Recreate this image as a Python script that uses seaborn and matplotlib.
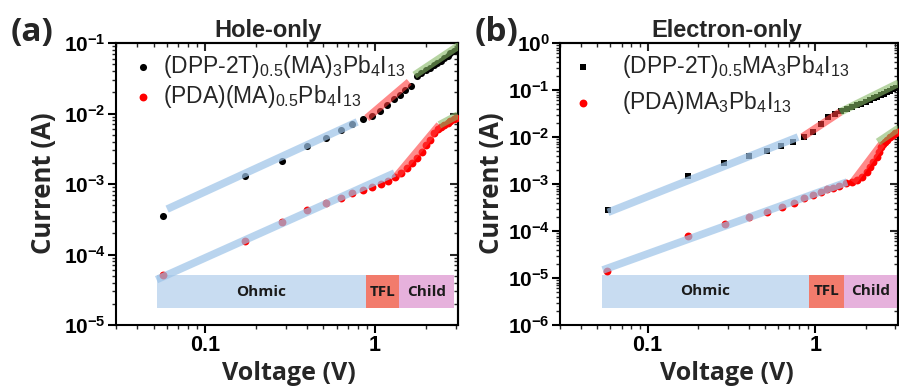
import numpy as np
import pandas as pd
import matplotlib
matplotlib.use("Agg")
import matplotlib.pyplot as plt
from matplotlib.ticker import FixedLocator, NullFormatter, LogLocator
import seaborn as sns

# ---------------- data ----------------
# (a) Hole-only
V_a_black = [0.057, 0.172, 0.284, 0.398, 0.515, 0.63, 0.74, 0.85, 0.97, 1.08, 1.19, 1.31, 1.42,
             1.52, 1.63, 1.77, 1.88, 2.0, 2.11, 2.23, 2.34, 2.46, 2.57, 2.69, 2.8, 2.92, 3.03]
I_a_black = [3.5e-4, 1.3e-3, 2.1e-3, 3.5e-3, 4.5e-3, 5.8e-3, 7.1e-3, 8.4e-3, 9.2e-3, 0.0108, 0.0132,
             0.0161, 0.0183, 0.0215, 0.0246, 0.034, 0.037, 0.041, 0.044, 0.048, 0.052, 0.056, 0.061,
             0.066, 0.071, 0.076, 0.080]
V_a_red = [0.057, 0.172, 0.284, 0.398, 0.515, 0.63, 0.74, 0.85, 0.97, 1.09, 1.2, 1.32, 1.43, 1.55,
           1.66, 1.78, 1.89, 2.0, 2.12, 2.23, 2.35, 2.46, 2.58, 2.69, 2.8, 2.92, 3.03]
I_a_red = [5.1e-5, 1.55e-4, 2.9e-4, 4.3e-4, 5.4e-4, 6.4e-4, 7.4e-4, 8.2e-4, 9.1e-4, 1.0e-3, 1.1e-3,
           1.26e-3, 1.43e-3, 1.69e-3, 2.0e-3, 2.34e-3, 2.85e-3, 3.6e-3, 4.2e-3, 5.3e-3, 6.0e-3,
           6.4e-3, 6.9e-3, 7.4e-3, 7.9e-3, 8.3e-3, 8.7e-3]

# (b) Electron-only
V_b_black = [0.058, 0.173, 0.287, 0.40, 0.518, 0.627, 0.74, 0.86, 0.97, 1.09, 1.2, 1.31, 1.42,
             1.54, 1.65, 1.77, 1.88, 2.0, 2.11, 2.23, 2.34, 2.46, 2.57, 2.69, 2.8, 2.92, 3.03]
I_b_black = [2.8e-4, 1.48e-3, 2.8e-3, 3.9e-3, 5.0e-3, 6.4e-3, 7.8e-3, 0.010, 0.0128, 0.019, 0.026,
             0.031, 0.035, 0.039, 0.043, 0.047, 0.051, 0.056, 0.061, 0.066, 0.071, 0.077, 0.083,
             0.089, 0.096, 0.103, 0.110]
V_b_red = [0.057, 0.173, 0.29, 0.404, 0.518, 0.636, 0.75, 0.86, 0.97, 1.08, 1.17, 1.28, 1.39, 1.53,
           1.66, 1.78, 1.9, 2.04, 2.12, 2.21, 2.34, 2.4, 2.47, 2.54, 2.61, 2.7, 2.8, 2.9, 2.99, 3.1]
I_b_red = [1.4e-5, 7.8e-5, 1.4e-4, 2.0e-4, 2.5e-4, 3.2e-4, 4.0e-4, 5.0e-4, 5.8e-4, 6.8e-4, 7.8e-4,
           8.2e-4, 9.1e-4, 1.05e-3, 1.1e-3, 1.22e-3, 1.41e-3, 1.8e-3, 2.3e-3, 2.95e-3, 3.75e-3,
           4.8e-3, 6.1e-3, 7.0e-3, 7.8e-3, 8.8e-3, 0.010, 0.011, 0.0122, 0.013]

# fitted segments (V endpoints, I endpoints)
fit_a = {
    "ohm_black": ([0.06, 0.79], [4.4e-4, 7.6e-3]),
    "tfl_black": ([0.90, 1.60], [8.6e-3, 0.028]),
    "child_black": ([1.72, 3.16], [0.035, 0.093]),
    "ohm_red": ([0.052, 1.31], [4.4e-5, 1.43e-3]),
    "tfl_red": ([1.35, 2.41], [1.3e-3, 6.9e-3]),
    "child_red": ([2.41, 3.10], [6.9e-3, 9.5e-3]),
}
fit_b = {
    "ohm_black": ([0.058, 0.79], [2.5e-4, 1.0e-2]),
    "tfl_black": ([0.84, 1.41], [0.010, 0.034]),
    "child_black": ([1.41, 3.15], [0.034, 0.14]),
    "ohm_red": ([0.054, 1.55], [1.48e-5, 1.1e-3]),
    "tfl_red": ([1.68, 2.50], [1.1e-3, 7.2e-3]),
    "child_red": ([2.37, 3.16], [7.8e-3, 0.0155]),
}

# regimes
region_names = ["Ohmic", "TFL", "Child"]
region_bounds_a = [0.052, 0.885, 1.40, 2.92]
region_y_a = [1.74e-5, 5.1e-5]
region_bounds_b = [0.0532, 0.92, 1.49, 3.12]
region_y_b = [2.3e-6, 1.16e-5]

labels_a = [r"(DPP-2T)$_{0.5}$(MA)$_3$Pb$_4$I$_{13}$", r"(PDA)(MA)$_{0.5}$Pb$_4$I$_{13}$"]
labels_b = [r"(DPP-2T)$_{0.5}$MA$_3$Pb$_4$I$_{13}$", r"(PDA)MA$_3$Pb$_4$I$_{13}$"]

xtick_vals = [0.1, 1]
xtick_labels = ["0.1", "1"]

# ---------------- style ----------------
sns.set_theme(style="ticks")
plt.rcParams["font.family"] = ["Liberation Sans", "DejaVu Sans"]
plt.rcParams["mathtext.default"] = "regular"
plt.rcParams["axes.linewidth"] = 1.5

region_colors = ["#c8dcf1", "#f27b6c", "#e6b1dc"]
fit_colors = {"ohm": "#9cc3e8", "tfl": "#ff3a3a", "child": "#86b865"}
BOLD2 = ["Open Sans", "DejaVu Sans"]

fig = plt.figure(figsize=(8.99, 3.92), dpi=100)
W, H = 899.0, 392.0
axA = fig.add_axes([116 / W, 1 - 325 / H, 342 / W, 282 / H])
axB = fig.add_axes([560 / W, 1 - 325 / H, 338 / W, 282 / H])


def setup(ax, ylim, yexp, xmax):
    ax.set_xscale("log")
    ax.set_yscale("log")
    ax.set_xlim(0.03, xmax)
    ax.set_ylim(*ylim)
    ax.xaxis.set_major_locator(FixedLocator(xtick_vals))
    ax.set_xticklabels(xtick_labels, fontsize=15.5, fontweight="bold")
    ax.xaxis.set_minor_locator(LogLocator(base=10, subs=np.arange(2, 10)))
    ax.xaxis.set_minor_formatter(NullFormatter())
    yt = [10.0 ** e for e in yexp]
    ax.yaxis.set_major_locator(FixedLocator(yt))
    ax.set_yticklabels([r"$10^{%d}$" % e for e in yexp], fontsize=15, fontweight="bold")
    ax.yaxis.set_minor_locator(LogLocator(base=10, subs=np.arange(2, 10), numticks=20))
    ax.yaxis.set_minor_formatter(NullFormatter())
    ax.tick_params(which="major", direction="out", length=6, width=1.5, pad=1.5, colors="black")
    ax.tick_params(which="minor", direction="out", length=3, width=1.0)
    for s in ax.spines.values():
        s.set_color("black")
        s.set_linewidth(1.5)
    # mirrored ticks pointing in
    sx = ax.secondary_xaxis("top")
    sx.xaxis.set_major_locator(FixedLocator(xtick_vals))
    sx.xaxis.set_minor_locator(LogLocator(base=10, subs=np.arange(2, 10)))
    sx.xaxis.set_major_formatter(NullFormatter())
    sx.xaxis.set_minor_formatter(NullFormatter())
    sx.tick_params(which="major", direction="in", length=6, width=1.5)
    sx.tick_params(which="minor", direction="in", length=3, width=1.0)
    sy = ax.secondary_yaxis("right")
    sy.yaxis.set_major_locator(FixedLocator(yt))
    sy.yaxis.set_minor_locator(LogLocator(base=10, subs=np.arange(2, 10), numticks=20))
    sy.yaxis.set_major_formatter(NullFormatter())
    sy.yaxis.set_minor_formatter(NullFormatter())
    sy.tick_params(which="major", direction="in", length=6, width=1.5)
    sy.tick_params(which="minor", direction="in", length=3, width=1.0)


def regions(ax, bounds, yr, fs):
    for i, name in enumerate(region_names):
        x0, x1 = bounds[i], bounds[i + 1]
        ax.fill_between([x0, x1], yr[0], yr[1], color=region_colors[i], lw=0, zorder=1)
        xc = np.sqrt(x0 * x1)
        yc = np.sqrt(yr[0] * yr[1])
        ax.text(xc, yc, name, ha="center", va="center", fontsize=fs,
                fontweight="bold", family=BOLD2, color="#1b1b1b", zorder=2)


def fits(ax, fd):
    for key, (vx, vy) in fd.items():
        kind = key.split("_")[0]
        sns.lineplot(x=vx, y=vy, ax=ax, color=fit_colors[kind], lw=5.5,
                     alpha=0.6 if kind != "ohm" else 0.7, solid_capstyle="butt",
                     legend=False, zorder=4, estimator=None, sort=False)


# ---- panel (a)
setup(axA, (1e-5, 1e-1), [-5, -4, -3, -2, -1], 3.1)
regions(axA, region_bounds_a, region_y_a, 11)
dfa_k = pd.DataFrame({"V": V_a_black, "I": I_a_black})
dfa_r = pd.DataFrame({"V": V_a_red, "I": I_a_red})
sns.scatterplot(data=dfa_k, x="V", y="I", ax=axA, color="black", s=26, linewidth=0,
                marker="o", label=labels_a[0], zorder=3)
sns.scatterplot(data=dfa_r, x="V", y="I", ax=axA, color="#ff0000", s=32, linewidth=0,
                marker="o", label=labels_a[1], zorder=3)
fits(axA, fit_a)
axA.set_xlabel("")
axA.set_ylabel("")
axA.legend(loc="upper left", bbox_to_anchor=(0.050, 0.965), frameon=False, fontsize=16.5,
           handlelength=0.9, handletextpad=0.4, labelspacing=0.12, borderaxespad=0,
           borderpad=0, markerscale=1.0)

# ---- panel (b)
setup(axB, (1e-6, 1e0), [-6, -5, -4, -3, -2, -1, 0], 3.12)
regions(axB, region_bounds_b, region_y_b, 11)
dfb_k = pd.DataFrame({"V": V_b_black, "I": I_b_black})
dfb_r = pd.DataFrame({"V": V_b_red, "I": I_b_red})
sns.scatterplot(data=dfb_k, x="V", y="I", ax=axB, color="black", s=24, linewidth=0,
                marker="s", label=labels_b[0], zorder=3)
sns.scatterplot(data=dfb_r, x="V", y="I", ax=axB, color="#ff0000", s=32, linewidth=0,
                marker="o", label=labels_b[1], zorder=3)
fits(axB, fit_b)
axB.set_xlabel("")
axB.set_ylabel("")
axB.legend(loc="upper left", bbox_to_anchor=(0.033, 0.965), frameon=False, fontsize=16.5,
           handlelength=1.0, handletextpad=1.2, labelspacing=0.4, borderaxespad=0,
           borderpad=0, markerscale=1.0)

# ---- texts
fig.text(268 / W, 1 - 30 / H, "Hole-only", ha="center", va="center", fontsize=17, fontweight="bold")
fig.text(727 / W, 1 - 30 / H, "Electron-only", ha="center", va="center", fontsize=17, fontweight="bold")
fig.text(32 / W, 1 - 32 / H, "(a)", ha="center", va="center", fontsize=24, fontweight="bold", family=BOLD2)
fig.text(497 / W, 1 - 32 / H, "(b)", ha="center", va="center", fontsize=24, fontweight="bold", family=BOLD2)
fig.text(44 / W, 1 - 183 / H, "Current (A)", ha="center", va="center", rotation=90,
         fontsize=18.5, fontweight="bold", family=BOLD2)
fig.text(492 / W, 1 - 183 / H, "Current (A)", ha="center", va="center", rotation=90,
         fontsize=18.5, fontweight="bold", family=BOLD2)
fig.text(289 / W, 1 - 373 / H, "Voltage (V)", ha="center", va="center",
         fontsize=18, fontweight="bold", family=BOLD2)
fig.text(727 / W, 1 - 373 / H, "Voltage (V)", ha="center", va="center",
         fontsize=18, fontweight="bold", family=BOLD2)

fig.savefig("out.png", dpi=100, facecolor="white")
